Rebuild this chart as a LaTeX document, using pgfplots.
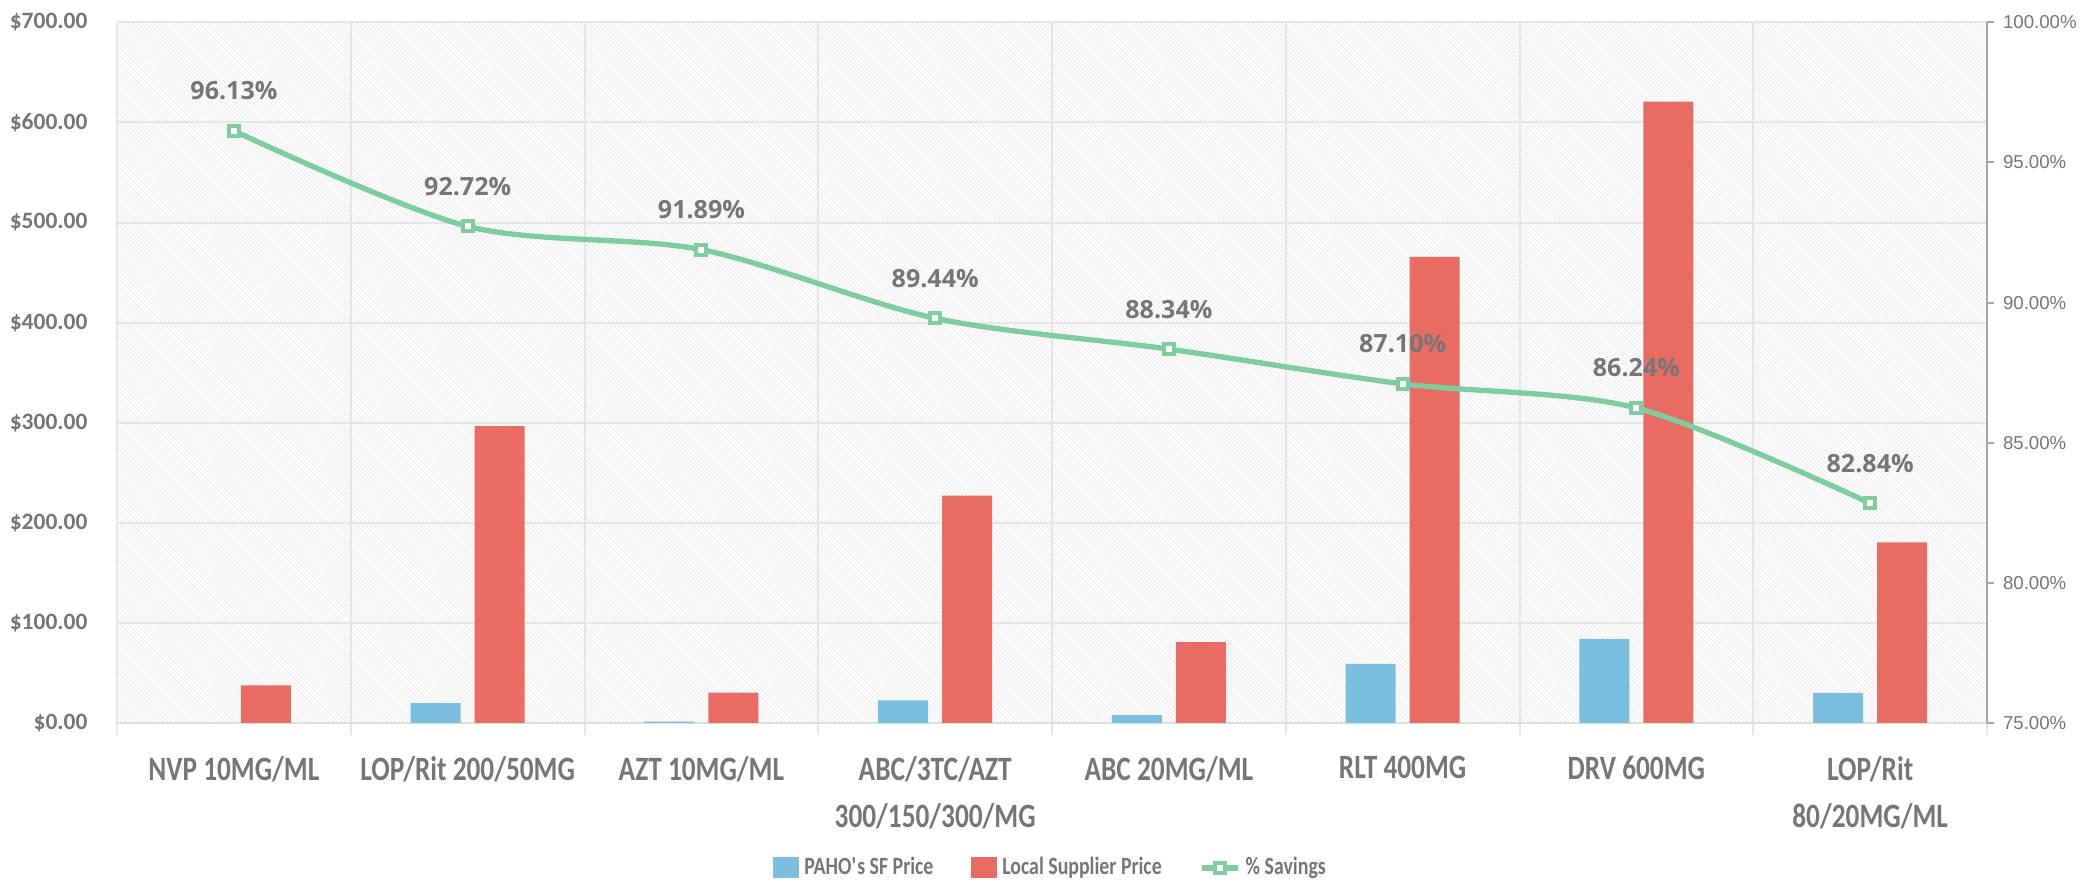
\documentclass[border=0pt]{standalone}
\usepackage{fontspec}
\usepackage{pgfplots}
\usepackage{pgfplotstable}
\pgfplotsset{compat=1.18}
\usetikzlibrary{patterns.meta}

\setmainfont{Carlito}
\newfontfamily\condfont[FakeStretch=0.8]{Carlito}
\newfontfamily\valfont{Open Sans}
\newfontfamily\axfont{Liberation Sans}

\definecolor{barblue}{HTML}{7BBFE0}
\definecolor{barred}{HTML}{E86C62}
\definecolor{savegreen}{HTML}{7ECD9C}
\definecolor{txtgray}{HTML}{767676}
\definecolor{gridgray}{HTML}{E6E6E6}
\definecolor{rightaxis}{HTML}{A6A6A6}

% x: category index, blue: PAHO SF price, red: local supplier price, save: % savings
\pgfplotstableread{
x blue red save
0 0    37.4  96.13
1 19.7 296.5 92.72
2 1.2  30.3  91.89
3 22.4 227.0 89.44
4 7.7  80.7  88.34
5 59.0 465.7 87.10
6 84.0 620.8 86.24
7 30.0 180.3 82.84
}\pricedata

\begin{document}
\begin{tikzpicture}
\begin{axis}[
  at={(0,0)}, anchor=south west,
  scale only axis,
  width=701.25pt, height=262.7pt,
  xmin=-0.5, xmax=7.5,
  ymin=0, ymax=700,
  ytick={0,100,...,700},
  xtick={0,...,7},
  minor xtick={-0.5,0.5,...,7.5},
  xticklabels={NVP 10MG/ML, LOP/Rit 200/50MG, AZT 10MG/ML, {ABC/3TC/AZT\\300/150/300/MG}, ABC 20MG/ML, RLT 400MG, DRV 600MG, {LOP/Rit\\80/20MG/ML}},
  axis x line*=bottom,
  axis y line*=left,
  x axis line style={draw=black!13, line width=1pt},
  y axis line style={draw=gridgray, line width=0.75pt},
  ymajorgrids, xminorgrids,
  major grid style={draw=gridgray, line width=0.75pt},
  minor grid style={draw=gridgray, line width=0.75pt},
  tick align=outside,
  major tick length=0pt,
  minor tick length=4.5pt,
  ytick style={draw=none},
  xtick style={draw=gridgray, line width=0.75pt},
  axis background/.style={pattern={Lines[angle=-45,distance=1.1pt,line width=0.35pt]}, pattern color=black!8},
  /pgf/number format/assume math mode=true,
  yticklabel={\$\pgfmathprintnumber[fixed,fixed zerofill,precision=2]{\tick}},
  yticklabel style={font=\bfseries\fontsize{8.8}{10}\selectfont, text=txtgray, anchor=east, inner sep=0pt, xshift=-10.9pt},
  xticklabel style={font=\condfont\bfseries\fontsize{12.8}{17.6}\selectfont, text=txtgray, align=center, anchor=north, inner sep=0pt, yshift=-12.4pt},
  ybar, bar width=0.214,
]
\addplot[fill=barblue, draw=none, bar shift=-0.137] table[x=x,y=blue]{\pricedata};
\addplot[fill=barred, draw=none, bar shift=0.137] table[x=x,y=red]{\pricedata};
\end{axis}

\begin{axis}[
  at={(0,0)}, anchor=south west,
  scale only axis,
  width=701.25pt, height=262.7pt,
  xmin=-0.5, xmax=7.5,
  ymin=75, ymax=100,
  ytick={75,80,...,100},
  axis y line*=right,
  axis x line=none,
  y axis line style={draw=rightaxis, line width=0.75pt},
  ytick style={draw=rightaxis, line width=0.75pt},
  tick align=outside, major tick length=2.5pt,
  /pgf/number format/assume math mode=true,
  yticklabel={\pgfmathprintnumber[fixed,fixed zerofill,precision=2]{\tick}\%},
  yticklabel style={font=\axfont\fontsize{7}{8}\selectfont, text=txtgray, anchor=west, inner sep=0pt, xshift=3.3pt},
  legend style={at={(0.5,0)}, anchor=center, yshift=-54.4pt, draw=none, fill=none,
    font=\condfont\bfseries\fontsize{9.3}{11}\selectfont, text=txtgray,
    /tikz/every even column/.append style={column sep=12pt}},
  legend columns=3,
  legend cell align=left,
]
\addlegendimage{legend image code/.code={\fill[barblue] (0pt,-3.75pt) rectangle (9.4pt,3.75pt);}}
\addlegendentry{PAHO\textquotesingle s SF Price}
\addlegendimage{legend image code/.code={\fill[barred] (0pt,-3.75pt) rectangle (9.4pt,3.75pt);}}
\addlegendentry{Local Supplier Price}
\addlegendimage{legend image code/.code={\draw[savegreen, line width=2pt, mark=square*, mark size=1.9pt, mark options={fill=white, draw=savegreen, line width=1.5pt}, mark repeat=2, mark phase=2] plot coordinates {(0pt,0pt) (6.75pt,0pt) (13.5pt,0pt)};}}
\addlegendentry{\% Savings}
\addplot[forget plot, savegreen, line width=2pt, smooth,
  mark=square*, mark size=1.9pt, mark options={fill=white, draw=savegreen, line width=1.5pt},
  nodes near coords={\pgfmathprintnumber[fixed,fixed zerofill,precision=2]{\pgfplotspointmeta}\%},
  every node near coord/.append style={font=\valfont\bfseries\fontsize{9.4}{11}\selectfont, text=txtgray, anchor=center, yshift=15pt},
] table[x=x,y=save]{\pricedata};
\end{axis}

\pgfresetboundingbox
\path[use as bounding box] (-43.9pt,-59.6pt) rectangle (736.5pt,271.1pt);
\end{tikzpicture}
\end{document}
